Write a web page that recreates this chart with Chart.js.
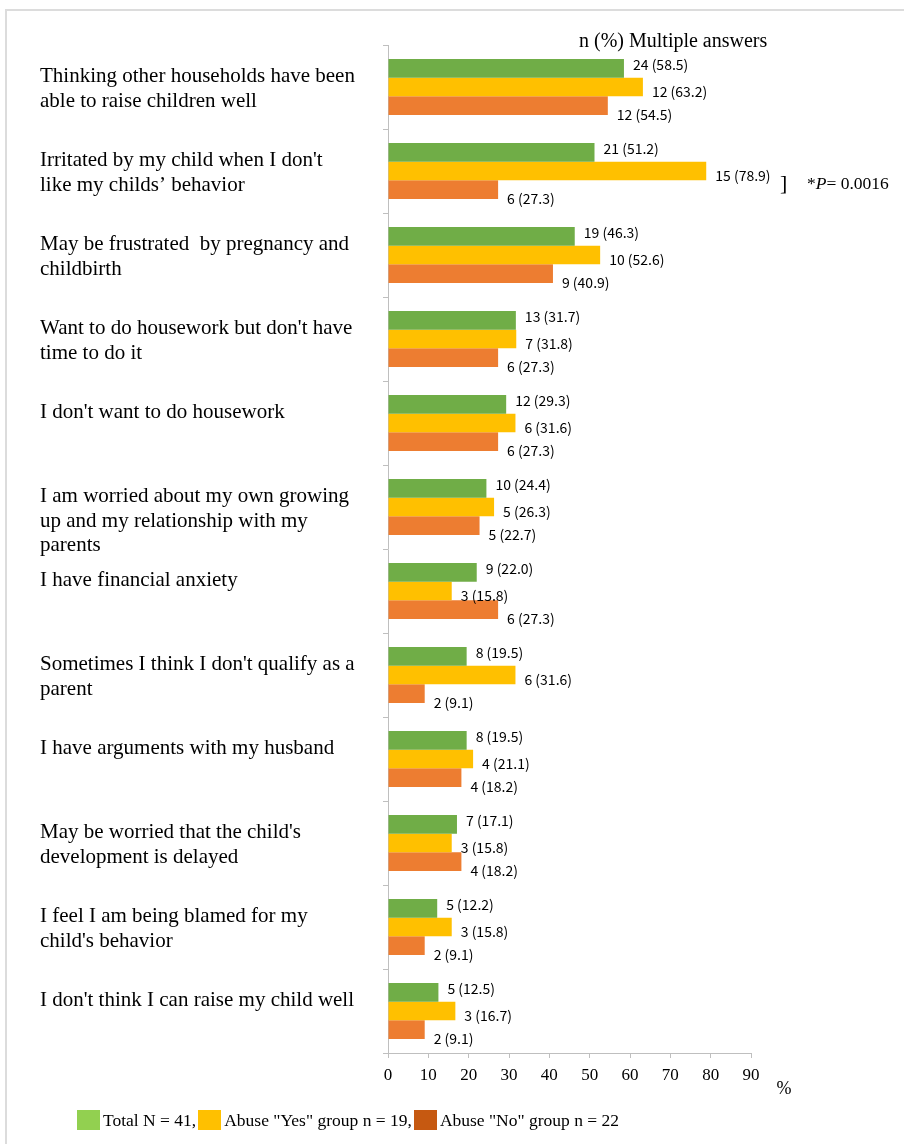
<!DOCTYPE html>
<html><head><meta charset="utf-8">
<script src="https://cdn.jsdelivr.net/npm/chart.js@4/dist/chart.umd.min.js"></script>
<style>
html,body{margin:0;padding:0;background:#fff;}
#wrap{position:relative;width:904px;height:1144px;overflow:hidden;background:#fff;}
#frame{position:absolute;left:5px;top:9px;width:950px;height:1200px;border:2px solid #dcdcdc;box-sizing:border-box;}
#c{position:absolute;left:0;top:0;}
#legend{position:absolute;left:77px;top:1110px;height:20px;font-family:"Liberation Serif";font-size:17.5px;display:flex;align-items:center;white-space:nowrap;color:#000;}
#legend .box{display:inline-block;width:23px;height:20px;}
#legend .txt{margin-left:3px;margin-right:2px;}
</style></head>
<body><div id="wrap"><div id="frame"></div><canvas id="c" width="904" height="1144"></canvas><div id="legend"></div></div>
<script>
const categories = [
  ["Thinking other households have been", "able to raise children well"],
  ["Irritated by my child when I don't", "like my childs\u2019 behavior"],
  ["May be frustrated  by pregnancy and", "childbirth"],
  ["Want to do housework but don't have", "time to do it"],
  ["I don't want to do housework"],
  ["I am worried about my own growing", "up and my relationship with my", "parents"],
  ["I have financial anxiety"],
  ["Sometimes I think I don't qualify as a", "parent"],
  ["I have arguments with my husband"],
  ["May be worried that the child's", "development is delayed"],
  ["I feel I am being blamed for my", "child's behavior"],
  ["I don't think I can raise my child well"]
];
const totalPct = [58.5, 51.2, 46.3, 31.7, 29.3, 24.4, 22.0, 19.5, 19.5, 17.1, 12.2, 12.5];
const totalN   = [24, 21, 19, 13, 12, 10, 9, 8, 8, 7, 5, 5];
const yesPct   = [63.2, 78.9, 52.6, 31.8, 31.6, 26.3, 15.8, 31.6, 21.1, 15.8, 15.8, 16.7];
const yesN     = [12, 15, 10, 7, 6, 5, 3, 6, 4, 3, 3, 3];
const noPct    = [54.5, 27.3, 40.9, 27.3, 27.3, 22.7, 27.3, 9.1, 18.2, 18.2, 9.1, 9.1];
const noN      = [12, 6, 9, 6, 6, 5, 6, 2, 4, 4, 2, 2];
const xTicks   = [0, 10, 20, 30, 40, 50, 60, 70, 80, 90];
const seriesNames = ['Total N = 41,', 'Abuse "Yes" group n = 19,', 'Abuse "No" group n = 22'];
const barColors = ['#70AD47', '#FFC000', '#ED7D31'];
const legendColors = ['#92D050', '#FFC000', '#C65911'];

// legend
const lg = document.getElementById('legend');
seriesNames.forEach((n, i) => {
  const b = document.createElement('span'); b.className = 'box'; b.style.background = legendColors[i];
  const t = document.createElement('span'); t.className = 'txt'; t.textContent = n;
  lg.appendChild(b); lg.appendChild(t);
});

// pad labels so first line sits near the top of each band
const yLabels = categories.map(l => l.length === 1 ? [l[0], ''] : (l.length === 3 ? [''].concat(l) : l));

const counts = [totalN, yesN, noN];
const labelDy = [-4, 5, 9];

const valueLabels = {
  id: 'valueLabels',
  afterDatasetsDraw(chart) {
    const ctx = chart.ctx;
    ctx.save();
    ctx.font = '14px "Noto Sans CJK JP"';
    ctx.fillStyle = '#000';
    ctx.textAlign = 'left';
    ctx.textBaseline = 'middle';
    chart.data.datasets.forEach((ds, di) => {
      const meta = chart.getDatasetMeta(di);
      meta.data.forEach((bar, i) => {
        const txt = counts[di][i] + ' (' + ds.data[i].toFixed(1) + ')';
        ctx.fillText(txt, bar.x + 9, bar.y + labelDy[di]);
      });
    });
    ctx.restore();
  }
};

const annotations = {
  id: 'annotations',
  afterDraw(chart) {
    const ctx = chart.ctx, a = chart.chartArea;
    ctx.save();
    ctx.fillStyle = '#000';
    ctx.textBaseline = 'middle';
    ctx.textAlign = 'left';
    ctx.font = '20px "Liberation Serif"';
    ctx.fillText('n (%) Multiple answers', a.left + 191, a.top - 3);
    // significance mark next to the "Yes" bar of category 2
    const yesBar = chart.getDatasetMeta(1).data[1];
    ctx.font = '22px "Liberation Serif"';
    ctx.fillText(']', a.right + 29, yesBar.y + 13);
    ctx.font = '17.5px "Liberation Serif"';
    let x = a.right + 56;
    const yy = yesBar.y + 13;
    ctx.fillText('*', x, yy); x += ctx.measureText('*').width;
    ctx.font = 'italic 17.5px "Liberation Serif"';
    ctx.fillText('P', x, yy); x += ctx.measureText('P').width;
    ctx.font = '17.5px "Liberation Serif"';
    ctx.fillText('= 0.0016', x, yy);
    // axis unit
    ctx.textAlign = 'center';
    ctx.font = '18px "Liberation Serif"';
    ctx.fillText('%', a.right + 33, a.bottom + 36);
    ctx.restore();
  }
};

new Chart(document.getElementById('c'), {
  type: 'bar',
  data: {
    labels: yLabels,
    datasets: [
      { label: seriesNames[0], data: totalPct, backgroundColor: barColors[0] },
      { label: seriesNames[1], data: yesPct, backgroundColor: barColors[1] },
      { label: seriesNames[2], data: noPct, backgroundColor: barColors[2] }
    ]
  },
  options: {
    indexAxis: 'y',
    responsive: false,
    animation: false,
    devicePixelRatio: 1,
    layout: { padding: { left: 40, top: 45, right: 153, bottom: 0 } },
    datasets: { bar: { categoryPercentage: 0.667, barPercentage: 1.0, borderWidth: 0 } },
    plugins: { legend: { display: false }, tooltip: { enabled: false } },
    scales: {
      x: {
        min: 0, max: 90,
        afterBuildTicks(s) { s.ticks = xTicks.map(v => ({ value: v })); },
        afterFit(s) { s.height = 91; },
        grid: { drawOnChartArea: false, drawTicks: true, tickLength: 5, color: '#bfbfbf' },
        border: { color: '#bfbfbf', width: 1 },
        ticks: { padding: 7, color: '#000', font: { family: 'Liberation Serif', size: 17 } }
      },
      y: {
        afterFit(s) { s.width = 348; },
        grid: { drawOnChartArea: false, drawTicks: true, tickLength: 5, color: '#bfbfbf', offset: true },
        border: { color: '#bfbfbf', width: 1 },
        ticks: { autoSkip: false, crossAlign: 'far', labelOffset: 2, color: '#000', font: { family: 'Liberation Serif', size: 21, lineHeight: 1.15 } }
      }
    }
  },
  plugins: [valueLabels, annotations]
});
</script></body></html>
